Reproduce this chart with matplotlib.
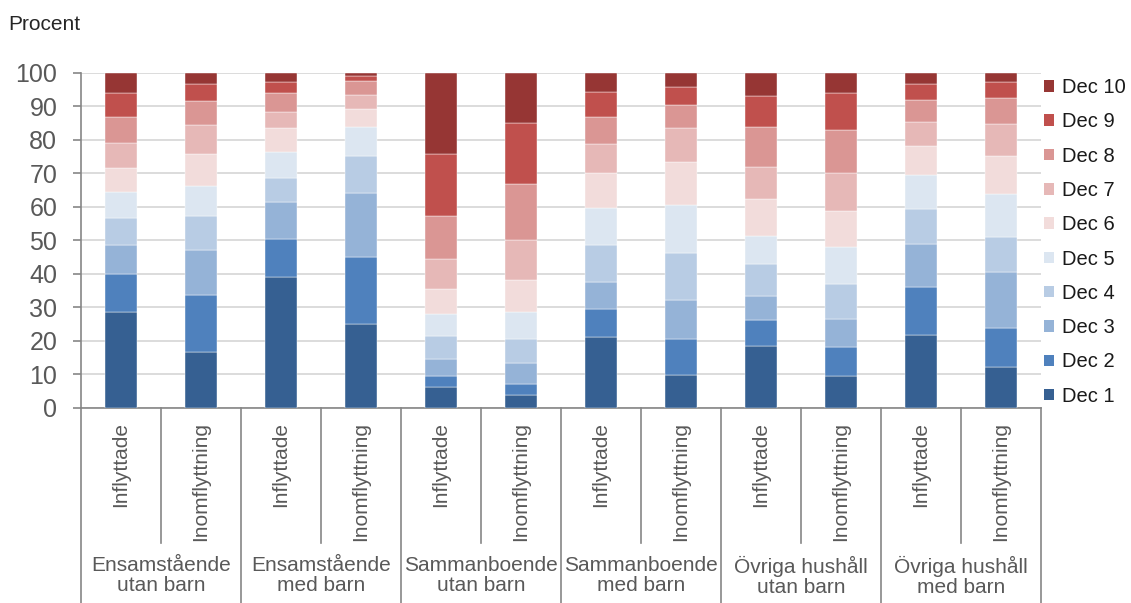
import matplotlib
matplotlib.use("Agg")
import matplotlib.pyplot as plt
import matplotlib.transforms as mtransforms
from matplotlib.lines import Line2D
from matplotlib.patches import Patch
import numpy as np

plt.rcParams['font.family'] = ['Liberation Sans', 'DejaVu Sans']

# Data (percent per income decile)
groups = ['Ensamstående\nutan barn', 'Ensamstående\nmed barn', 'Sammanboende\nutan barn',
          'Sammanboende\nmed barn', 'Övriga hushåll\nutan barn', 'Övriga hushåll\nmed barn']
moves = ['Inflyttade', 'Inomflyttning']

dec1 = [28.7, 16.7, 39.1, 25.1, 6.3, 3.9, 21.0, 9.9, 18.5, 9.6, 21.8, 12.2]
dec2 = [11.3, 17.0, 11.3, 20.0, 3.3, 3.3, 8.6, 10.5, 7.7, 8.4, 14.3, 11.7]
dec3 = [8.7, 13.5, 11.1, 19.1, 5.0, 6.1, 8.0, 11.8, 7.1, 8.5, 12.9, 16.6]
dec4 = [8.0, 9.9, 7.2, 11.0, 6.8, 7.2, 11.0, 14.0, 9.5, 10.5, 10.4, 10.4]
dec5 = [7.6, 9.2, 7.5, 8.5, 6.7, 8.2, 11.0, 14.2, 8.5, 11.1, 10.1, 12.9]
dec6 = [7.2, 9.5, 7.2, 5.4, 7.2, 9.5, 10.4, 12.9, 11.1, 10.5, 8.6, 11.4]
dec7 = [7.6, 8.7, 4.9, 4.3, 9.1, 11.8, 8.7, 10.2, 9.4, 11.4, 7.2, 9.6]
dec8 = [7.7, 7.1, 5.6, 4.2, 12.8, 16.8, 8.1, 7.0, 12.0, 12.9, 6.6, 7.7]
dec9 = [7.0, 5.1, 3.2, 1.4, 18.4, 18.2, 7.5, 5.2, 9.2, 10.9, 4.8, 4.6]
dec10 = [6.2, 3.3, 2.9, 1.0, 24.4, 15.0, 5.7, 4.3, 7.0, 6.2, 3.3, 2.9]

deciles = [dec1, dec2, dec3, dec4, dec5, dec6, dec7, dec8, dec9, dec10]
dec_labels = ['Dec %d' % (i + 1) for i in range(10)]
colors = ['#366092', '#4F81BD', '#95B3D7', '#B8CCE4', '#DCE6F1',
          '#F2DCDB', '#E6B8B7', '#DA9694', '#C0504D', '#963634']

TEXT = '#595959'
AXIS = '#868686'

fig = plt.figure(figsize=(11.31, 6.03), dpi=100)
ax = fig.add_axes([0.0716, 0.3239, 0.8488, 0.5555])

x = np.arange(len(dec1))
bottom = np.zeros(len(dec1))
for vals, col, lab in zip(deciles, colors, dec_labels):
    ax.bar(x, vals, 0.4, bottom=bottom, color=col, label=lab,
           edgecolor='white', linewidth=0.3, zorder=3)
    bottom += np.array(vals)

ax.set_xlim(-0.5, len(dec1) - 0.5)
ax.set_ylim(0, 100)
ax.set_yticks(range(0, 101, 10))
ax.yaxis.grid(True, color='#D9D9D9', linewidth=1.3, zorder=0)
ax.tick_params(axis='y', length=6, width=1.2, color=AXIS, pad=11,
               labelsize=18, labelcolor=TEXT)
for s in ['top', 'right']:
    ax.spines[s].set_visible(False)
for s in ['left', 'bottom']:
    ax.spines[s].set_color(AXIS)
    ax.spines[s].set_linewidth(1.2)

# first level of category labels
ax.set_xticks(x)
ax.set_xticklabels(moves * len(groups), rotation=90, fontsize=15, color=TEXT)
ax.tick_params(axis='x', length=0, pad=10)

# separators below the axis
trans = mtransforms.blended_transform_factory(ax.transData, fig.transFigure)
for k in range(len(dec1) + 1):
    xs = k - 0.5
    y_end = 0.0 if k % 2 == 0 else 1 - 543 / 603
    fig.add_artist(Line2D([xs, xs], [ax.get_position().y0, y_end], transform=trans,
                          color=AXIS, linewidth=1.2, clip_on=False))

# second level: group labels
for i, g in enumerate(groups):
    ax.text(2 * i + 0.5, 1 - 556 / 603, g, transform=trans, ha='center', va='top',
            fontsize=15, color=TEXT, linespacing=1.05, clip_on=False)

fig.text(8 / 1131, 1 - 24 / 603, 'Procent', fontsize=15, color='#262626', va='center')

handles = [Patch(facecolor=c, label=l) for c, l in zip(colors, dec_labels)]
fig.legend(handles[::-1], dec_labels[::-1], loc='upper left',
           bbox_to_anchor=(1044 / 1131, 1 - 78 / 603), frameon=False,
           fontsize=14.5, handlelength=0.5, handleheight=0.5, handletextpad=0.4,
           labelspacing=0.76, borderpad=0, borderaxespad=0, labelcolor='#1a1a1a')

fig.savefig('out.png', dpi=100)
